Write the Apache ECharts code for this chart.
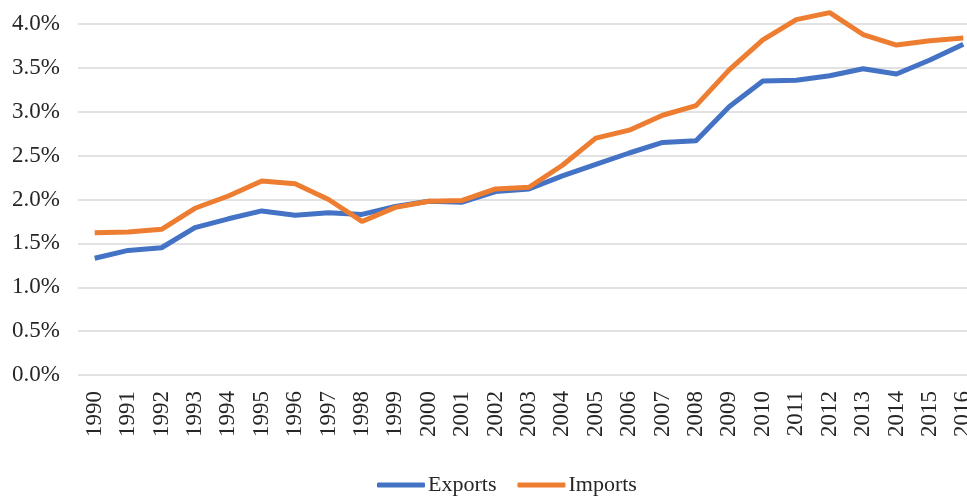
<!DOCTYPE html>
<html>
<head>
<meta charset="utf-8">
<script src="https://cdn.jsdelivr.net/npm/echarts@6/dist/echarts.min.js"></script>
<style>
  html, body { margin: 0; padding: 0; background: #fff; }
  #chart { width: 967px; height: 496px; }
</style>
</head>
<body>
<div id="chart"></div>
<script>
const years = ['1990', '1991', '1992', '1993', '1994', '1995', '1996', '1997', '1998', '1999',
  '2000', '2001', '2002', '2003', '2004', '2005', '2006', '2007', '2008', '2009',
  '2010', '2011', '2012', '2013', '2014', '2015', '2016']

// share in percent
const exportsPct = [1.33, 1.42, 1.45, 1.68, 1.78, 1.87, 1.82, 1.85, 1.83, 1.92,
  1.98, 1.97, 2.09, 2.12, 2.27, 2.40, 2.53, 2.65, 2.67, 3.06,
  3.35, 3.36, 3.41, 3.49, 3.43, 3.59, 3.77]
const importsPct = [1.62, 1.63, 1.66, 1.90, 2.04, 2.21, 2.18, 2.00, 1.75, 1.91,
  1.98, 1.99, 2.12, 2.14, 2.39, 2.70, 2.79, 2.96, 3.07, 3.48,
  3.82, 4.05, 4.13, 3.88, 3.76, 3.81, 3.84]

const yTicks = { min: 0, max: 4, interval: 0.5 }

const font = '"Liberation Serif", "Times New Roman", serif'

const chart = echarts.init(document.getElementById('chart'))

const option = {
  animation: false,
  textStyle: { fontFamily: font },
  grid: {
    left: 78,
    top: 24,
    width: 902,
    height: 351,
    outerBoundsMode: 'none',
    containLabel: false
  },
  legend: {
    left: 377,
    top: 474,
    padding: 0,
    itemWidth: 48,
    itemHeight: 5,
    itemGap: 21,
    icon: 'roundRect',
    textStyle: { fontFamily: font, fontSize: 22, color: '#262626', padding: [0, 0, 0, -2] },
    data: ['Exports', 'Imports']
  },
  xAxis: {
    type: 'category',
    data: years,
    boundaryGap: true,
    axisLine: { show: false },
    axisTick: { show: false },
    axisLabel: {
      rotate: 90,
      interval: 0,
      margin: 16,
      fontFamily: font,
      fontSize: 23,
      color: '#262626'
    }
  },
  yAxis: {
    type: 'value',
    min: yTicks.min,
    max: yTicks.max,
    interval: yTicks.interval,
    axisLine: { show: false },
    axisTick: { show: false },
    axisLabel: {
      margin: 18,
      fontFamily: font,
      fontSize: 23,
      color: '#262626',
      formatter: v => v.toFixed(1) + '%'
    },
    splitLine: { lineStyle: { color: '#d9d9d9', width: 1.5 } }
  },
  series: [
    {
      name: 'Exports',
      type: 'line',
      data: exportsPct,
      showSymbol: false,
      clip: false,
      lineStyle: { color: '#4472c4', width: 5 },
      itemStyle: { color: '#4472c4' }
    },
    {
      name: 'Imports',
      type: 'line',
      data: importsPct,
      showSymbol: false,
      clip: false,
      lineStyle: { color: '#ed7d31', width: 5 },
      itemStyle: { color: '#ed7d31' }
    }
  ]
}

chart.setOption(option)
</script>
</body>
</html>
